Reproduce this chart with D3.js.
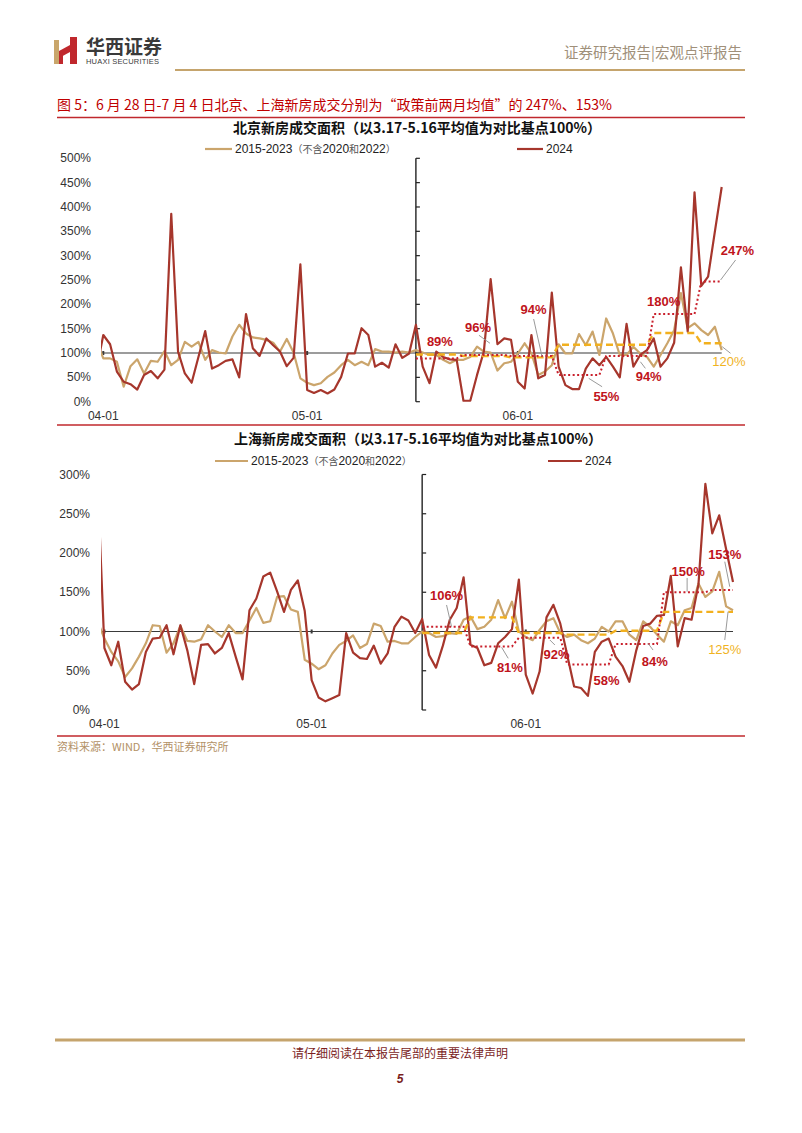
<!DOCTYPE html>
<html><head><meta charset="utf-8">
<script src="https://cdn.jsdelivr.net/npm/d3@7"></script>
<style>
body{margin:0;background:#fff}
svg{display:block}
text{font-family:"Liberation Sans",Arial,sans-serif}
.cjk{font-family:"Noto Sans CJK SC","Liberation Sans",sans-serif}
</style>
</head><body>
<svg id="page" width="802" height="1133"></svg>
<script>
// ---------------- DATA ----------------
// daily categories 2024-03-31 .. 2024-07-01
const dates = d3.timeDay.range(new Date(2024,2,31), new Date(2024,6,2));
const fmt = d3.timeFormat("%m-%d");
const dateLabels = dates.map(fmt);
const xTickLabels = ["04-01","05-01","06-01"];
const policyDate = "05-17";
const weekStarts = ["05-17","05-24","05-31","06-07","06-14","06-21","06-28"];

// Beijing (%)
const bjHist = [125,89,89,82,31,73,87,58,84,82,104,75,86,123,113,123,86,106,101,99,134,158,140,132,130,127,121,103,129,101,48,39,34,38,51,60,75,86,75,82,75,108,103,103,101,103,101,106,101,96,96,86,79,86,86,92,113,103,101,64,79,82,99,120,99,55,62,75,118,99,99,139,116,144,96,171,140,96,96,113,99,92,72,96,120,147,223,151,161,147,137,154,106];
const bj2024 = [66,137,118,62,41,36,25,55,63,48,66,386,103,58,39,92,145,68,75,84,87,50,180,110,94,130,116,103,73,90,282,24,18,24,17,25,51,99,99,151,137,72,80,70,118,90,99,158,72,38,103,92,87,86,2,2,55,103,252,118,130,127,41,27,137,48,55,224,72,34,26,26,68,89,75,92,72,50,160,72,96,106,130,72,89,121,276,144,430,238,257,350,441];
const bjWeek2024 = [89,96,94,55,94,180,247];
const bjWeekHist = [97,94,91,117,117,141,120];
const bjYTicks = [0,50,100,150,200,250,300,350,400,450,500];

// Shanghai (%)
const shHist = [113,91,74,62,42,53,68,85,108,107,73,85,107,88,87,90,108,100,93,108,98,98,114,130,111,113,144,145,128,125,64,59,52,57,72,83,88,95,79,84,110,107,87,88,85,85,93,100,98,93,94,98,97,115,119,103,106,115,140,117,138,100,93,89,102,113,117,98,93,96,89,85,91,106,100,113,113,96,89,113,106,96,87,113,108,127,130,161,144,151,176,132,127];
const sh2024 = [296,79,57,87,36,26,33,74,91,92,108,71,108,76,33,83,84,72,79,98,68,39,127,142,170,175,151,125,153,165,126,38,16,11,15,19,98,73,66,65,82,59,72,106,119,114,98,116,70,54,82,115,130,169,83,79,57,60,85,93,103,166,45,21,49,118,134,110,70,30,28,18,74,87,91,68,56,36,76,107,110,120,121,171,81,117,115,160,288,225,248,205,163];
const shWeek2024 = [106,81,92,58,84,150,153];
const shWeekHist = [98,118,98,96,101,125,125];
const shYTicks = [0,50,100,150,200,250,300];

const seriesNames = ["2015-2023","2024"];

// ---------------- STYLE ----------------
const C = {
  cur:"#a6362c", hist:"#cba56c", dotRed:"#c9202c", dashYel:"#f2b01e",
  lblRed:"#c0141c", lblYel:"#f0b31e", leader:"#9a9a9a", axis:"#3a3a3a",
  gold:"#c5a46d", red:"#c0282d", text:"#333"
};

const svg = d3.select("#page");

// ---------------- PAGE FRAME ----------------
const logo = svg.append("g");
logo.append("rect").attr("x",54).attr("y",40).attr("width",5).attr("height",24).attr("fill","#c9a66b");
logo.append("rect").attr("x",70).attr("y",37).attr("width",7).attr("height",27).attr("fill",C.red);
logo.append("polygon").attr("points","59,51 70,45 70,52 59,58").attr("fill",C.red);
logo.append("rect").attr("x",59).attr("y",55).attr("width",4).attr("height",9).attr("fill",C.red);
svg.append("text").attr("class","cjk").attr("x",86).attr("y",54).attr("font-size",19).attr("font-weight",700)
  .attr("fill","#3a3a3a").text("华西证券");
svg.append("text").attr("x",86).attr("y",64).attr("font-size",7.5).attr("fill","#3a3a3a").attr("letter-spacing",0.2)
  .text("HUAXI SECURITIES");
svg.append("text").attr("class","cjk").attr("x",742).attr("y",58).attr("font-size",14.5).attr("text-anchor","end")
  .attr("fill","#a0907a").text("证券研究报告|宏观点评报告");
svg.append("line").attr("x1",175).attr("x2",745).attr("y1",70).attr("y2",70).attr("stroke",C.gold).attr("stroke-width",2);

svg.append("text").attr("class","cjk").attr("x",57).attr("y",110).attr("font-size",14).attr("fill","#c00000")
  .text("图 5：6 月 28 日-7 月 4 日北京、上海新房成交分别为“政策前两月均值”的 247%、153%");
[117.5, 425, 736].forEach(yy=>{
  svg.append("line").attr("x1",57).attr("x2",745).attr("y1",yy).attr("y2",yy).attr("stroke",C.red).attr("stroke-width",1.3);
});

svg.append("text").attr("class","cjk").attr("x",57).attr("y",751).attr("font-size",11).attr("fill","#b39166")
  .text("资料来源：WIND，华西证券研究所");
svg.append("line").attr("x1",55).attr("x2",745).attr("y1",1040).attr("y2",1040).attr("stroke",C.gold).attr("stroke-width",3);
svg.append("text").attr("class","cjk").attr("x",400).attr("y",1058).attr("font-size",12).attr("text-anchor","middle")
  .attr("fill","#7b1e1e").text("请仔细阅读在本报告尾部的重要法律声明");
svg.append("text").attr("x",400).attr("y",1083).attr("font-size",12).attr("text-anchor","middle").attr("font-weight",700)
  .attr("font-style","italic").attr("fill","#7b1e1e").text("5");

// ---------------- CHART ----------------
function drawChart(cfg){
  const n = dateLabels.length;
  const g = svg.append("g");
  const x = d3.scaleLinear().domain([0,n-1]).range(cfg.xRange);
  const y = d3.scaleLinear().domain([0,cfg.yMax]).range(cfg.yRange);
  const idx = d => dateLabels.indexOf(d);

  g.append("text").attr("class","cjk").attr("x",cfg.titleX).attr("y",cfg.titleY).attr("text-anchor","middle")
    .attr("font-size",14).attr("font-weight",700).attr("fill","#111").text(cfg.title);

  const L = cfg.legend;
  g.append("line").attr("x1",L.h[0]).attr("x2",L.h[1]).attr("y1",L.y).attr("y2",L.y).attr("stroke",C.hist).attr("stroke-width",2.2);
  const lt = g.append("text").attr("x",L.h[1]+3).attr("y",L.y+4).attr("font-size",12).attr("fill","#222");
  lt.append("tspan").text(seriesNames[0]);
  lt.append("tspan").attr("class","cjk").attr("font-size",10).attr("fill","#555").text("（不含");
  lt.append("tspan").text("2020");
  lt.append("tspan").attr("class","cjk").attr("font-size",10).attr("fill","#555").text("和");
  lt.append("tspan").text("2022");
  lt.append("tspan").attr("class","cjk").attr("font-size",10).attr("fill","#555").text("）");
  g.append("line").attr("x1",L.c[0]).attr("x2",L.c[1]).attr("y1",L.y).attr("y2",L.y).attr("stroke",C.cur).attr("stroke-width",2.2);
  g.append("text").attr("x",L.c[1]+3).attr("y",L.y+4).attr("font-size",12).attr("fill","#222").text(seriesNames[1]);

  g.selectAll(".yt").data(cfg.yTicks).join("text")
    .attr("x",cfg.yLabelX).attr("y",d=>y(d)+4).attr("text-anchor","end").attr("font-size",12).attr("fill",C.text)
    .text(d=>d+"%");

  g.selectAll(".xt").data(xTickLabels).join("text")
    .attr("x",d=>x(idx(d))).attr("y",cfg.yRange[0]+18).attr("text-anchor","middle").attr("font-size",12).attr("fill",C.text)
    .text(d=>d);

  g.append("line").attr("x1",cfg.clipLeft).attr("x2",x(n-1)).attr("y1",y(100)).attr("y2",y(100))
    .attr("stroke",C.axis).attr("stroke-width",1.2);
  g.selectAll(".xtk").data(xTickLabels).join("line")
    .attr("x1",d=>x(idx(d))).attr("x2",d=>x(idx(d))).attr("y1",y(100)-2).attr("y2",y(100)+2)
    .attr("stroke",C.axis).attr("stroke-width",2);

  const px = x(idx(policyDate));
  g.append("line").attr("x1",px).attr("x2",px).attr("y1",y(0)).attr("y2",y(cfg.yMax)).attr("stroke","#222").attr("stroke-width",1.4);
  g.selectAll(".st").data(cfg.yTicks).join("line")
    .attr("x1",px).attr("x2",px+4).attr("y1",d=>y(d)).attr("y2",d=>y(d)).attr("stroke","#222").attr("stroke-width",1.2);

  const cid = "clip"+cfg.id;
  g.append("clipPath").attr("id",cid).append("rect")
    .attr("x",cfg.clipLeft).attr("y",cfg.yRange[1]-20).attr("width",cfg.xRange[1]-cfg.clipLeft+10)
    .attr("height",cfg.yRange[0]-cfg.yRange[1]+30);
  const lines = g.append("g").attr("clip-path",`url(#${cid})`);
  const line = d3.line().x((d,i)=>x(i)).y(d=>y(d));
  lines.append("path").attr("d",line(cfg.hist)).attr("fill","none").attr("stroke",C.hist).attr("stroke-width",2.2)
    .attr("stroke-linejoin","round");
  lines.append("path").attr("d",line(cfg.cur)).attr("fill","none").attr("stroke",C.cur).attr("stroke-width",2.2)
    .attr("stroke-linejoin","round");

  const ws = weekStarts.map(idx);
  function stepPts(avg){
    const pts=[];
    for(let i=ws[0];i<n;i++){ let k=0; ws.forEach((s,j)=>{ if(i>=s) k=j; }); pts.push([i,avg[k]]); }
    return pts;
  }
  const sline = d3.line().x(d=>x(d[0])).y(d=>y(d[1]));
  g.append("path").attr("d",sline(stepPts(cfg.weekHist))).attr("fill","none").attr("stroke",C.dashYel)
    .attr("stroke-width",2.4).attr("stroke-dasharray","7 4");
  g.append("path").attr("d",sline(stepPts(cfg.weekCur))).attr("fill","none").attr("stroke",C.dotRed)
    .attr("stroke-width",2).attr("stroke-dasharray","2 2.5");

  cfg.weekCur.forEach((v,k)=>{
    const ax = x(ws[k]), ay = y(v);
    const o = cfg.lblOff[k], cx = ax+o[0], cy = ay+o[1];
    const ld = cfg.lblLead[k];
    if(ld) g.append("line").attr("x1",cx+ld[0]).attr("y1",cy+ld[1]).attr("x2",cx+ld[2]).attr("y2",cy+ld[3])
      .attr("stroke",C.leader).attr("stroke-width",1);
    g.append("text").attr("x",cx).attr("y",cy).attr("dominant-baseline","central").attr("text-anchor","middle")
      .attr("font-size",13).attr("font-weight",700).attr("fill",C.lblRed).text(v+"%");
  });
  const lk = ws.length-1, hv = cfg.weekHist[lk];
  const hx = x(ws[lk])+cfg.histOff[0], hy = y(hv)+cfg.histOff[1], hl = cfg.histLead;
  g.append("line").attr("x1",hx+hl[0]).attr("y1",hy+hl[1]).attr("x2",hx+hl[2]).attr("y2",hy+hl[3])
    .attr("stroke",C.leader).attr("stroke-width",1);
  g.append("text").attr("x",hx).attr("y",hy).attr("dominant-baseline","central").attr("text-anchor","middle")
    .attr("font-size",13).attr("fill",C.lblYel).text(hv+"%");
}

drawChart({
  id:"bj", title:"北京新房成交面积（以3.17-5.16平均值为对比基点100%）", titleX:417, titleY:133,
  legend:{y:149, h:[205,232], c:[517,543]},
  hist:bjHist, cur:bj2024, weekCur:bjWeek2024, weekHist:bjWeekHist,
  yMax:500, yTicks:bjYTicks, xRange:[96.5,721.7], yRange:[401.7,158.3], clipLeft:101, yLabelX:91,
  lblOff:[[24,-17],[14.5,-27.7],[22.6,-46.4],[47.8,21.1],[42.5,20.1],[10,-12.3],[36,-30.5]],
  lblLead:[null,[1,8,12,16],[0,9.5,8.4,47],[-4.3,-9.3,-17.7,-17.7],[-8.3,-14.3,-3.3,-7.7],null,[-1.7,9,-16.7,29]],
  histOff:[27.5,18.4], histLead:[-6.6,-15,1.7,-8.4]
});

drawChart({
  id:"sh", title:"上海新房成交面积（以3.17-5.16平均值为对比基点100%）", titleX:418, titleY:444,
  legend:{y:461, h:[215,248], c:[548,582]},
  hist:shHist, cur:sh2024, weekCur:shWeek2024, weekHist:shWeekHist,
  yMax:300, yTicks:shYTicks, xRange:[97.5,733], yRange:[710,474.5], clipLeft:101, yLabelX:90,
  lblOff:[[24.4,-30.8],[39.4,21.3],[37.7,16.5],[39.3,16.5],[39.2,17.7],[24.2,-20.6],[12.5,-34.9]],
  lblLead:[[0,9,5,30.7],[-8.3,-20.4,-1.7,-9.4],[-6.7,-14.3,-1.7,-9.3],null,[-6.7,-18.4,-1.7,-11.7],[-1,6.3,-1,20],[0,6.7,5,31.7]],
  histOff:[12.5,37.4], histLead:[3.3,-37.6,0,-9.3]
});
</script>
</body></html>
